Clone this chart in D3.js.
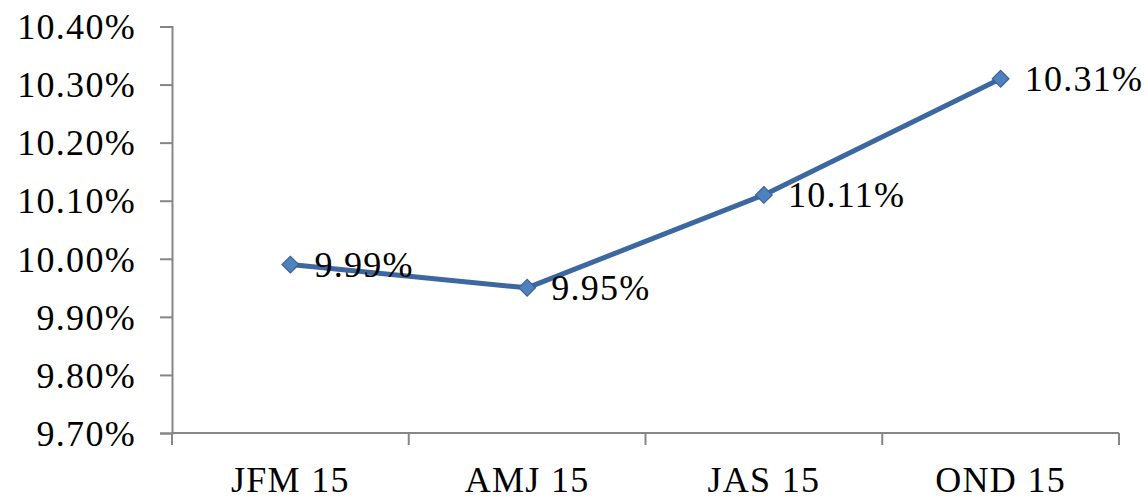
<!DOCTYPE html>
<html>
<head>
<meta charset="utf-8">
<script src="https://cdn.jsdelivr.net/npm/d3@7/dist/d3.min.js"></script>
<style>
  html, body { margin: 0; padding: 0; background: #fff; }
  svg { display: block; }
  text { font-family: "Liberation Serif", "Times New Roman", serif; fill: #000; letter-spacing: 1.3px; }
</style>
</head>
<body>
<svg id="chart" width="1145" height="502"></svg>
<script>
const categories = ["JFM 15", "AMJ 15", "JAS 15", "OND 15"];
const values = [9.99, 9.95, 10.11, 10.31];
const yTicks = [9.70, 9.80, 9.90, 10.00, 10.10, 10.20, 10.30, 10.40];

const svg = d3.select("#chart");
const plotLeft = 172, plotRight = 1119, plotTop = 26.5, plotBottom = 433;

const x = d3.scaleBand().domain(categories).range([plotLeft, plotRight]).padding(0);
const y = d3.scaleLinear().domain([9.70, 10.40]).range([plotBottom, plotTop]);

const axisColor = "#868686";
const fontSize = 36;

// Y axis
const yAxis = svg.append("g").attr("transform", `translate(${plotLeft},0)`)
  .call(d3.axisLeft(y).tickValues(yTicks).tickSize(12).tickPadding(24)
    .tickFormat(d => d.toFixed(2) + "%"));
yAxis.select(".domain").attr("stroke", axisColor).attr("stroke-width", 2);
yAxis.selectAll(".tick line").attr("stroke", axisColor).attr("stroke-width", 2);
yAxis.selectAll(".tick text").attr("font-size", fontSize)
  .attr("font-family", "Liberation Serif, serif").attr("fill", "#000").attr("dy", "0.34em");

// X axis
const xAxis = svg.append("g").attr("transform", `translate(0,${plotBottom})`)
  .call(d3.axisBottom(x).tickSize(0).tickPadding(0));
xAxis.select(".domain").attr("stroke", axisColor).attr("stroke-width", 2)
  .attr("d", `M${plotLeft},0H${plotRight}`);
xAxis.selectAll(".tick line").remove();
xAxis.selectAll(".tick text").attr("font-size", fontSize)
  .attr("font-family", "Liberation Serif, serif").attr("fill", "#000")
  .attr("y", 59).attr("dy", 0);
const boundaries = categories.map(c => x(c)).concat([x(categories[categories.length - 1]) + x.bandwidth()]);
xAxis.selectAll("line.bnd").data(boundaries).enter().append("line")
  .attr("class", "bnd")
  .attr("x1", d => d).attr("x2", d => d).attr("y1", 0).attr("y2", 12)
  .attr("stroke", axisColor).attr("stroke-width", 2);

// Line
const cx = d => x(d) + x.bandwidth() / 2;
const pts = categories.map((c, i) => ({ c, v: values[i] }));
svg.append("path").datum(pts)
  .attr("fill", "none").attr("stroke", "#3D67A0").attr("stroke-width", 5)
  .attr("stroke-linejoin", "round")
  .attr("d", d3.line().x(d => cx(d.c)).y(d => y(d.v)));

// Markers
svg.selectAll("path.mk").data(pts).enter().append("path")
  .attr("class", "mk")
  .attr("d", d3.symbol().type(d3.symbolSquare).size(140)())
  .attr("transform", d => `translate(${cx(d.c)},${y(d.v)}) rotate(45)`)
  .attr("fill", "#4F81BD").attr("stroke", "#3A6399").attr("stroke-width", 1.2);

// Data labels
svg.selectAll("text.lbl").data(pts).enter().append("text")
  .attr("class", "lbl")
  .attr("x", d => cx(d.c) + 24)
  .attr("y", d => y(d.v))
  .attr("dy", "0.34em")
  .attr("font-size", fontSize)
  .text(d => d.v.toFixed(2) + "%");
</script>
</body>
</html>
